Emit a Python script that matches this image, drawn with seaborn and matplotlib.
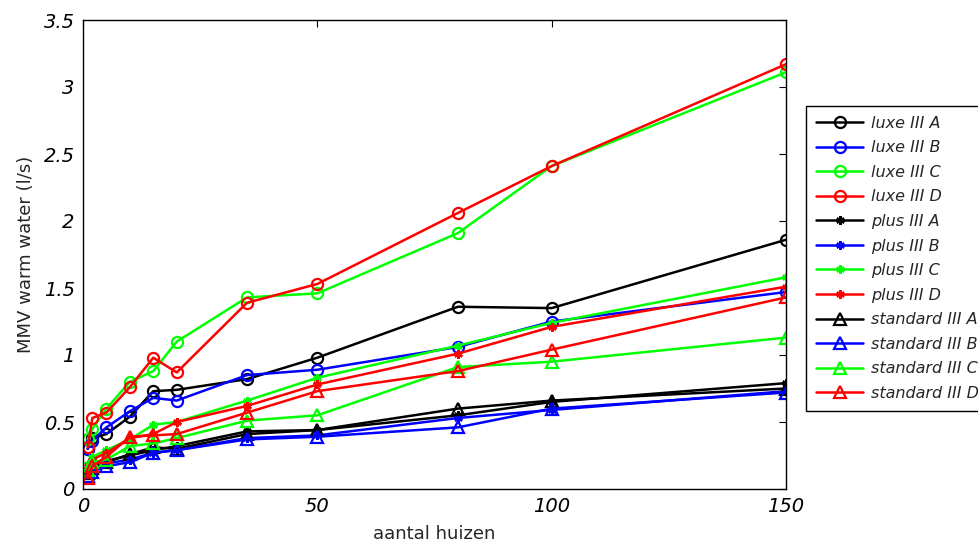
import matplotlib
matplotlib.use("Agg")
import matplotlib.pyplot as plt
import seaborn as sns
import pandas as pd

huizen = [1, 2, 5, 10, 15, 20, 35, 50, 80, 100, 150]

luxe_A = [0.30, 0.38, 0.41, 0.54, 0.73, 0.74, 0.82, 0.98, 1.36, 1.35, 1.86]
luxe_B = [0.30, 0.36, 0.46, 0.58, 0.68, 0.66, 0.85, 0.89, 1.06, 1.25, 1.47]
luxe_C = [0.37, 0.45, 0.60, 0.80, 0.88, 1.10, 1.43, 1.46, 1.91, 2.41, 3.11]
luxe_D = [0.31, 0.53, 0.57, 0.76, 0.98, 0.87, 1.39, 1.53, 2.06, 2.41, 3.17]
plus_A = [0.15, 0.18, 0.21, 0.25, 0.29, 0.32, 0.43, 0.44, 0.55, 0.65, 0.79]
plus_B = [0.13, 0.16, 0.19, 0.22, 0.27, 0.29, 0.38, 0.40, 0.53, 0.59, 0.73]
plus_C = [0.19, 0.24, 0.29, 0.37, 0.48, 0.50, 0.66, 0.83, 1.07, 1.24, 1.58]
plus_D = [0.17, 0.22, 0.27, 0.38, 0.41, 0.50, 0.62, 0.78, 1.01, 1.21, 1.51]
standard_A = [0.12, 0.16, 0.20, 0.26, 0.31, 0.30, 0.41, 0.44, 0.60, 0.66, 0.75]
standard_B = [0.10, 0.13, 0.17, 0.20, 0.27, 0.29, 0.37, 0.39, 0.46, 0.60, 0.72]
standard_C = [0.14, 0.20, 0.22, 0.32, 0.34, 0.38, 0.51, 0.55, 0.91, 0.95, 1.13]
standard_D = [0.08, 0.17, 0.24, 0.39, 0.40, 0.41, 0.57, 0.73, 0.88, 1.04, 1.43]

series_labels = ["luxe III A", "luxe III B", "luxe III C", "luxe III D",
                 "plus III A", "plus III B", "plus III C", "plus III D",
                 "standard III A", "standard III B", "standard III C", "standard III D"]
series_values = [luxe_A, luxe_B, luxe_C, luxe_D,
                 plus_A, plus_B, plus_C, plus_D,
                 standard_A, standard_B, standard_C, standard_D]

x_ticks = [0, 50, 100, 150]
y_ticks = [0, 0.5, 1, 1.5, 2, 2.5, 3, 3.5]
x_label = "aantal huizen"
y_label = "MMV warm water (l/s)"

sns.set_style("white")
plt.rcParams["font.family"] = ["DejaVu Sans"]

colors = ["#000000", "#0000ff", "#00ff00", "#ff0000"]

fig = plt.figure(figsize=(9.79, 5.44), dpi=100)
ax = fig.add_axes([83 / 979, 55 / 544, 703 / 979, 469 / 544])

for i, (lab, vals) in enumerate(zip(series_labels, series_values)):
    group = i // 4
    col = colors[i % 4]
    df = pd.DataFrame({"x": huizen, "y": vals})
    if group == 0:
        mk = dict(marker="o", markersize=8, markerfacecolor="none",
                  markeredgecolor=col, markeredgewidth=1.6)
    elif group == 1:
        mk = dict(marker=(6, 2, 0), markersize=6, markerfacecolor=col,
                  markeredgecolor=col, markeredgewidth=1.8)
    else:
        mk = dict(marker="^", markersize=9, markerfacecolor="none",
                  markeredgecolor=col, markeredgewidth=1.6)
    sns.lineplot(data=df, x="x", y="y", ax=ax, color=col, linewidth=1.8,
                 label=lab, legend=False, **mk)

ax.set_xlim(0, 150)
ax.set_ylim(0, 3.5)
ax.set_xticks(x_ticks)
ax.set_yticks(y_ticks)
ax.set_xticklabels([f"{t:g}" for t in x_ticks], fontsize=14, style="italic")
ax.set_yticklabels([f"{t:g}" for t in y_ticks], fontsize=14, style="italic")
ax.tick_params(direction="in", length=5, width=0.8, top=True, right=True,
               colors="black", pad=6)
for s in ax.spines.values():
    s.set_visible(True)
    s.set_color("black")
    s.set_linewidth(1.0)
ax.set_xlabel(x_label, fontsize=13, labelpad=6)
ax.set_ylabel(y_label, fontsize=13, labelpad=6)

handles, labels = ax.get_legend_handles_labels()
leg = ax.legend(handles, labels, loc="upper left",
                bbox_to_anchor=(806 / 979, 1 - 106 / 544),
                bbox_transform=fig.transFigure, borderaxespad=0,
                fancybox=False, framealpha=1, edgecolor="black",
                prop={"size": 11.5, "style": "italic"},
                handlelength=3.0, handletextpad=0.45, labelspacing=0.6,
                borderpad=0.6)
leg.get_frame().set_linewidth(1.0)

fig.savefig("out.png", dpi=100)
